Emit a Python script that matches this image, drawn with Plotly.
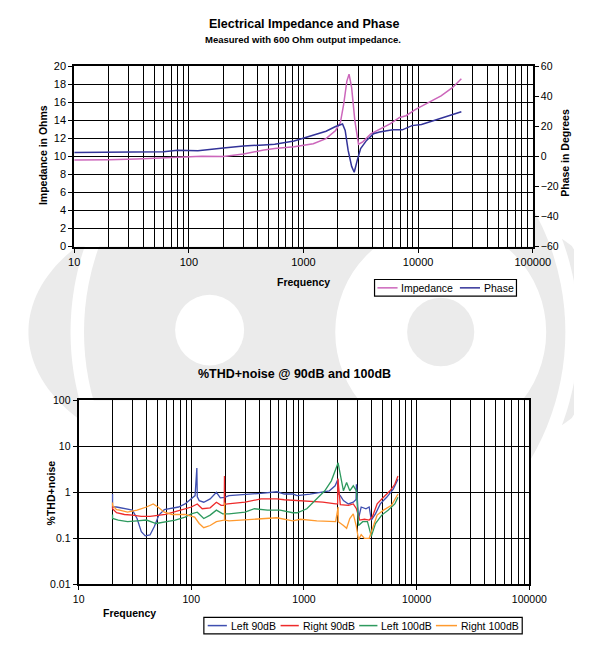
import numpy as np
import plotly.graph_objects as go

# ---------------- data ----------------
freq_ticks = [10, 100, 1000, 10000, 100000]
freq_tick_labels = ["10", "100", "1000", "10000", "100000"]

imp_freq = [10, 15, 20, 35, 50, 70, 100, 130, 200, 300, 450, 562, 828, 1000, 1217, 1573, 1906,
            2100, 2240, 2388, 2497, 2630, 2805, 3020, 3293, 3866, 4394, 5686, 6890, 7838, 9505,
            11530, 15850, 19890, 23820]
imp_vals = [9.6, 9.6, 9.62, 9.7, 9.78, 9.85, 9.95, 10.0, 9.98, 10.25, 10.7, 10.87, 11.05, 11.2,
            11.4, 11.96, 12.86, 13.77, 15.76, 18.3, 19.1, 17.6, 13.95, 11.34, 11.6, 12.5, 12.86,
            13.6, 14.3, 14.5, 15.2, 15.76, 16.7, 17.6, 18.6]

phase_freq = [10, 20, 40, 60, 80, 120, 200, 300, 450, 562, 828, 1217, 1573, 1906, 2190, 2310,
              2450, 2630, 2770, 2950, 3150, 3550, 4080, 4610, 6000, 7280, 8830, 10700, 13620,
              17340, 23820]
phase_vals = [2.6, 2.8, 3.3, 3.0, 4.0, 3.7, 5.5, 6.9, 7.6, 8.0, 10.2, 13.9, 16.7, 19.8, 21.5,
              17.2, 4.1, -6.7, -10.6, -2.4, 5.2, 10.6, 15.0, 16.1, 17.6, 17.6, 20.4, 21.1, 23.7,
              26.3, 29.6]

thd_ticks = [0.01, 0.1, 1, 10, 100]
thd_tick_labels = ["0.01", "0.1", "1", "10", "100"]

left90_freq = [20, 20, 21.7, 25.5, 30, 33, 36, 39, 43, 47, 51.5, 57.6, 65.6, 77, 88, 100, 108,
               112, 113, 117.5, 129, 147, 167, 181, 197, 216, 300, 415, 575, 670, 795, 870, 1130,
               1380, 1680, 1890, 2000, 2010, 2100, 2240, 2480, 2740, 2900, 2920, 3050, 3220,
               3550, 3790, 3960, 4310, 4760, 5420, 6200, 6830]
left90_vals = [0.92, 0.48, 0.48, 0.44, 0.41, 0.27, 0.14, 0.113, 0.118, 0.18, 0.32, 0.42, 0.44,
               0.48, 0.56, 0.72, 0.85, 3.4, 0.8, 0.66, 0.61, 0.72, 1.0, 0.76, 0.78, 0.85, 0.89,
               0.95, 1.03, 0.92, 0.92, 0.85, 0.92, 1.0, 1.08, 1.39, 1.93, 0.95, 0.85, 0.66, 0.56,
               0.61, 0.7, 1.5, 0.27, 0.48, 0.44, 0.48, 0.25, 0.34, 0.56, 0.78, 1.18, 1.93]

right90_freq = [20, 20, 21.7, 25.5, 30, 36, 43, 51.5, 59, 67, 80, 100, 113, 125, 147, 167, 184,
                196, 197, 198, 211, 300, 415, 575, 670, 870, 1130, 1470, 1910, 1990, 2000, 2100,
                2480, 2740, 2920, 3120, 3440, 3790, 4040, 4460, 5080, 5800, 6400, 6830]
right90_vals = [0.5, 0.44, 0.36, 0.33, 0.32, 0.30, 0.30, 0.32, 0.33, 0.36, 0.41, 0.48, 0.56,
                0.44, 0.46, 0.61, 0.52, 0.52, 2.27, 0.55, 0.56, 0.61, 0.72, 0.72, 0.69, 0.66,
                0.64, 0.61, 0.56, 0.56, 2.0, 0.54, 0.52, 0.56, 0.44, 0.25, 0.26, 0.25, 0.29,
                0.56, 0.78, 1.08, 1.5, 2.27]

left100_freq = [20, 20, 22.5, 27.2, 33, 40, 48.7, 59.2, 72, 88, 100, 113, 129, 147, 167, 190,
                216, 300, 363, 474, 613, 795, 870, 1060, 1300, 1530, 1750, 1910, 2010, 2100,
                2240, 2390, 2550, 2740, 2920, 3050, 3320, 3660, 3960, 4310, 4900, 5580, 6400, 6830]
left100_vals = [0.33, 0.27, 0.25, 0.23, 0.24, 0.25, 0.21, 0.23, 0.25, 0.29, 0.34, 0.37, 0.27,
                0.32, 0.41, 0.34, 0.34, 0.37, 0.44, 0.41, 0.41, 0.36, 0.36, 0.44, 0.72, 1.08,
                1.78, 3.4, 4.4, 2.46, 1.08, 1.63, 1.08, 1.39, 1.08, 0.19, 0.23, 0.23, 0.11, 0.21,
                0.32, 0.41, 0.56, 0.78]

right100_freq = [20, 20, 21.7, 23.1, 27.2, 33, 40, 45.9, 50.5, 57.6, 67.6, 88, 107, 117.5, 129,
                 147, 167, 190, 197, 197.5, 198, 216, 300, 415, 575, 795, 930, 1300, 1910, 2010,
                 2015, 2240, 2390, 2550, 2740, 2920, 3050, 3220, 3440, 3790, 4040, 4460, 5080,
                 5980, 6830]
right100_vals = [0.6, 0.52, 0.42, 0.41, 0.37, 0.41, 0.48, 0.56, 0.48, 0.37, 0.33, 0.33, 0.29,
                 0.21, 0.17, 0.19, 0.23, 0.25, 0.25, 0.6, 0.25, 0.24, 0.25, 0.27, 0.28, 0.24,
                 0.26, 0.24, 0.23, 0.48, 0.23, 0.19, 0.165, 0.27, 0.34, 0.18, 0.093, 0.12, 0.10,
                 0.10, 0.165, 0.32, 0.41, 0.52, 0.92]

# ---------------- helpers ----------------
# The page keeps the browser's default 8px body margin, so the figure is sized to
# fill a 600x668 window exactly; layout positions below are given in page pixels.
OFF = 8
W, H = 600 - 2 * OFF, 650
FONT = "Liberation Sans, Arial, sans-serif"


def px(x):
    return (x - OFF) / W


def py(y):
    return 1 - (y - OFF) / H


minor_freq = [m * 10 ** e for e in range(1, 5) for m in range(2, 10)]

fig = go.Figure()

# top chart traces
fig.add_trace(go.Scatter(x=imp_freq, y=imp_vals, mode="lines", name="Impedance",
                         line=dict(color="#CC66BB", width=1.5), xaxis="x", yaxis="y",
                         showlegend=False))
fig.add_trace(go.Scatter(x=phase_freq, y=phase_vals, mode="lines", name="Phase",
                         line=dict(color="#333399", width=1.5), xaxis="x", yaxis="y2",
                         showlegend=False))

# bottom chart traces
bottom_series = [
    ("Left 90dB", left90_freq, left90_vals, "#3F4FB0"),
    ("Right 90dB", right90_freq, right90_vals, "#EE2B2B"),
    ("Left 100dB", left100_freq, left100_vals, "#2E9A5E"),
    ("Right 100dB", right100_freq, right100_vals, "#FF9A2E"),
]
for name, f, v, c in bottom_series:
    fig.add_trace(go.Scatter(x=f, y=v, mode="lines", name=name,
                             line=dict(color=c, width=1.3), xaxis="x3", yaxis="y3",
                             showlegend=False))

tickfont_top = dict(family=FONT, size=11, color="black")
tickfont_bot = dict(family=FONT, size=10.5, color="black")

common_x = dict(type="log", range=[1, 5], tickmode="array", tickvals=freq_ticks,
                ticktext=freq_tick_labels, showgrid=True, gridcolor="black", gridwidth=1,
                minor=dict(tickmode="array", tickvals=minor_freq, showgrid=True,
                           gridcolor="black", gridwidth=1, ticks=""),
                showline=True, linecolor="black", linewidth=2, mirror=True,
                ticks="outside", ticklen=4, tickcolor="black", tickwidth=1, zeroline=False)

fig.update_layout(
    width=W, height=H, autosize=False,
    margin=dict(l=0, r=0, t=0, b=0),
    paper_bgcolor="white", plot_bgcolor="white",
    showlegend=False,
    xaxis=dict(common_x, domain=[px(70.8), px(549)], anchor="y", tickfont=tickfont_top),
    yaxis=dict(domain=[py(245), py(61)], range=[0, 20], tickmode="array",
               tickvals=list(range(0, 21, 2)), showgrid=True, gridcolor="black", gridwidth=1,
               showline=True, linecolor="black", linewidth=2, mirror=True, ticks="outside",
               ticklen=4, tickcolor="black", zeroline=False, anchor="x", tickfont=tickfont_top),
    yaxis2=dict(overlaying="y", side="right", range=[-60, 60], tickmode="array",
                tickvals=[-60, -40, -20, 0, 20, 40, 60], showgrid=False, showline=True,
                linecolor="black", linewidth=2, ticks="outside", ticklen=4, tickcolor="black",
                zeroline=False, anchor="x", tickfont=dict(family=FONT, size=10.5, color="black")),
    xaxis3=dict(common_x, domain=[px(75.4), px(545.4)], anchor="y3", tickfont=tickfont_bot),
    yaxis3=dict(type="log", domain=[py(589), py(401.7)], range=[-2, 2], tickmode="array",
                tickvals=thd_ticks, ticktext=thd_tick_labels, showgrid=True, gridcolor="black",
                gridwidth=1, showline=True, linecolor="black", linewidth=2, mirror=True,
                ticks="outside", ticklen=4, tickcolor="black", zeroline=False, anchor="x3",
                tickfont=tickfont_bot),
)

# ---------------- watermark (background logo) ----------------
GRAY = "#EBEBEB"
shapes = []
CX, CY = 332, 332


def crescent(center_deg, half_span=21, r_in=265, thick=44):
    t = np.linspace(-half_span, half_span, 40)
    outer = [(CX + (r_in + thick * np.cos(np.pi * a / (2 * half_span))) * np.cos(np.radians(center_deg + a)),
              CY + (r_in + thick * np.cos(np.pi * a / (2 * half_span))) * np.sin(np.radians(center_deg + a)))
             for a in t]
    inner = [(CX + r_in * np.cos(np.radians(center_deg + a)),
              CY + r_in * np.sin(np.radians(center_deg + a))) for a in t[::-1]]
    pts = [(min(max(x, OFF), OFF + W), y) for x, y in outer + inner]
    return "M " + " L ".join(f"{px(x):.4f},{py(y):.4f}" for x, y in pts) + " Z"


def circle(cx, cy, r, color):
    return dict(type="circle", xref="paper", yref="paper", layer="below",
                x0=px(cx - r), x1=px(cx + r), y0=py(cy + r), y1=py(cy - r),
                fillcolor=color, line=dict(width=0))


shapes.append(dict(type="path", xref="paper", yref="paper", layer="below",
                   path=crescent(180), fillcolor=GRAY, line=dict(width=0)))
shapes.append(dict(type="path", xref="paper", yref="paper", layer="below",
                   path=crescent(0), fillcolor=GRAY, line=dict(width=0)))
shapes.append(circle(CX, CY, 251, GRAY))
shapes.append(circle(453, 332, 110, "white"))
shapes.append(circle(453, 332, 35, GRAY))
shapes.append(circle(212, 330, 36, "white"))
for (x0, y0, x1, y1) in [(70.8, 61, 549, 245), (75.4, 401.7, 545.4, 589)]:
    shapes.append(dict(type="rect", xref="paper", yref="paper", layer="below",
                       x0=px(x0), x1=px(x1), y0=py(y1), y1=py(y0), fillcolor="white",
                       line=dict(width=0)))

# ---------------- legends (drawn manually) ----------------
annotations = []
legend_font = dict(family=FONT, size=10.5, color="black")


def legend_box(x0, y0, x1, y1, items):
    shapes.append(dict(type="rect", xref="paper", yref="paper", x0=px(x0), x1=px(x1),
                       y0=py(y1), y1=py(y0), fillcolor="white",
                       line=dict(color="black", width=1.2)))
    yc = (y0 + y1) / 2
    for lx0, lx1, color, text in items:
        shapes.append(dict(type="line", xref="paper", yref="paper", x0=px(lx0), x1=px(lx1),
                           y0=py(yc), y1=py(yc), line=dict(color=color, width=1.5)))
        annotations.append(dict(x=px(lx1 + 2), y=py(yc), xref="paper", yref="paper",
                                text=text, showarrow=False, xanchor="left", yanchor="middle",
                                font=legend_font))


legend_box(384, 278.5, 532, 295.5, [(387, 408, "#CC66BB", "Impedance"),
                                    (473, 494, "#333399", "Phase")])
legend_box(206, 622.7, 538, 639.5, [(210, 230, "#3F4FB0", "Left 90dB"),
                                    (286, 305, "#EE2B2B", "Right 90dB"),
                                    (368, 387, "#2E9A5E", "Left 100dB"),
                                    (448, 470, "#FF9A2E", "Right 100dB")])


def text(x, y, s, size, bold=True, angle=0):
    annotations.append(dict(x=px(x), y=py(y), xref="paper", yref="paper",
                            text=f"<b>{s}</b>" if bold else s, showarrow=False,
                            xanchor="center", yanchor="middle", textangle=angle,
                            font=dict(family=FONT, size=size, color="black")))


text(310, 18, "Electrical Impedance and Phase", 12.5)
text(309, 34, "Measured with 600 Ohm output impedance.", 9.5)
text(310, 281, "Frequency", 10.5)
text(39, 152, "Impedance in Ohms", 10.5, angle=-90)
text(583, 149, "Phase in Degrees", 10.5, angle=-90)
text(300, 375, "%THD+noise @ 90dB and 100dB", 12.5)
text(128, 618, "Frequency", 10.5)
text(47, 496, "%THD+noise", 10.5, angle=-90)

fig.update_layout(shapes=shapes, annotations=annotations)

fig.write_html("out.html", config={"displayModeBar": False})
